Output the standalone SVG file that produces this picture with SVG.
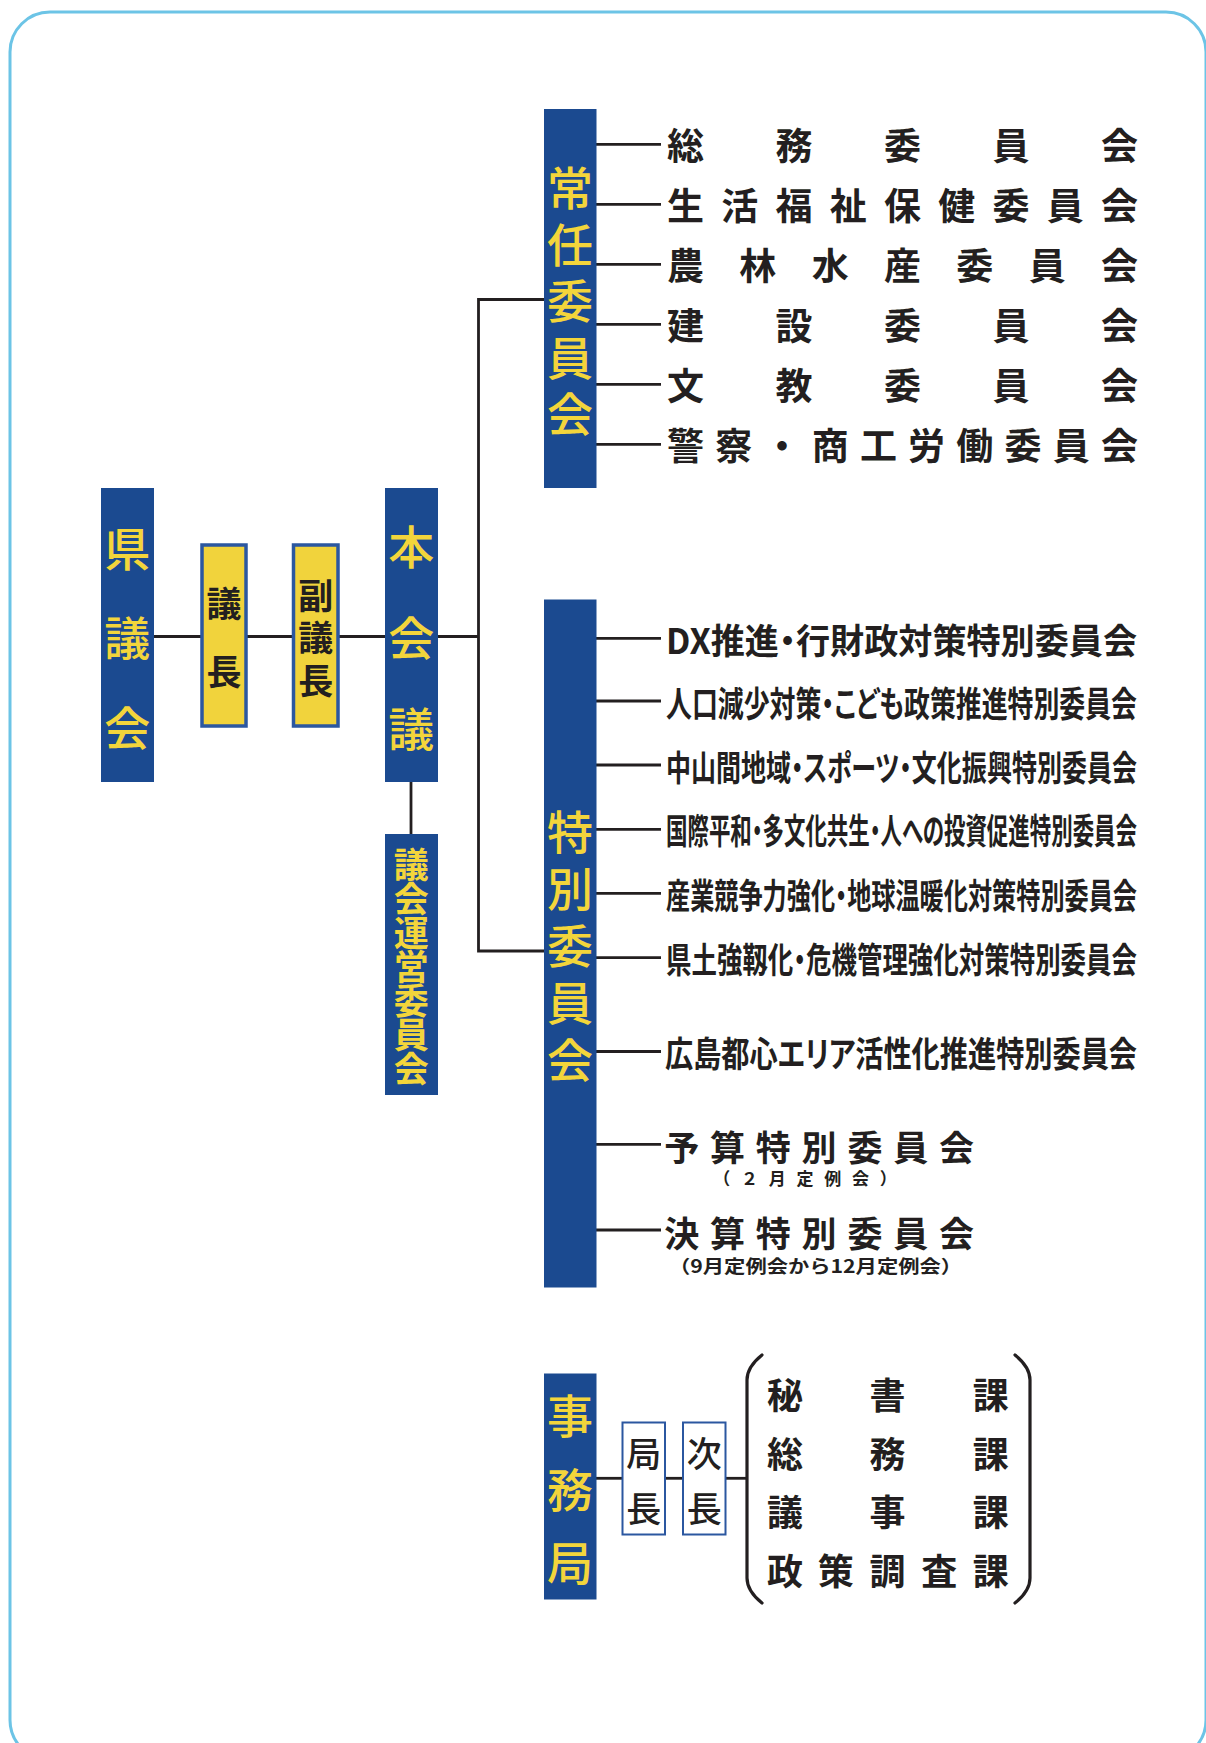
<svg xmlns="http://www.w3.org/2000/svg" width="1206" height="1743" viewBox="0 0 1206 1743">
<style>
.frame{fill:#fff;stroke:#6cc4e6;stroke-width:3}
.bx{fill:#1b4a90}
.yb{fill:#f1d33c;stroke:#2b57a0;stroke-width:3.5}
.wb{fill:#fff;stroke:#2b57a0;stroke-width:2}
.ln{stroke:#231f20;stroke-width:2.8;fill:none}
.br{stroke:#231f20;stroke-width:3.2;fill:none;stroke-linecap:round}
text{font-family:"Noto Sans CJK JP","Noto Sans",sans-serif;dominant-baseline:central}
.vy{fill:#f3d53b;font-size:46px;font-weight:500;text-anchor:middle}
.vs{fill:#f3d53b;font-size:35px;font-weight:700;text-anchor:middle}
.vk{fill:#231f20;font-size:35px;font-weight:700;text-anchor:middle}
.vw{fill:#231f20;font-size:35px;font-weight:500;text-anchor:middle}
.it{fill:#231f20;font-size:37px;font-weight:700;text-anchor:middle}
.sp{fill:#231f20;font-size:35px;font-weight:700;font-feature-settings:"palt"}
.bg{fill:#231f20;font-size:35px;font-weight:700;text-anchor:middle}
.sm{fill:#231f20;font-size:17px;font-weight:700;text-anchor:middle}
.sm2{fill:#231f20;font-size:18px;font-weight:700}
.ka{fill:#231f20;font-size:36px;font-weight:700;text-anchor:middle}
</style>
<rect class="frame" x="10" y="12" width="1196" height="1748" rx="40"/>

<g id="connectors">
<line class="ln" x1="153" y1="636.5" x2="201" y2="636.5"/>
<line class="ln" x1="247" y1="636.5" x2="292" y2="636.5"/>
<line class="ln" x1="339" y1="636.5" x2="385" y2="636.5"/>
<line class="ln" x1="437" y1="636.5" x2="478.5" y2="636.5"/>
<polyline class="ln" points="544,299.5 478.5,299.5 478.5,951 544,951"/>
<line class="ln" x1="411" y1="782" x2="411" y2="834"/>
<g>
<line class="ln" x1="596" y1="144.3" x2="661" y2="144.3"/>
<line class="ln" x1="596" y1="204.3" x2="661" y2="204.3"/>
<line class="ln" x1="596" y1="264.3" x2="661" y2="264.3"/>
<line class="ln" x1="596" y1="324.3" x2="661" y2="324.3"/>
<line class="ln" x1="596" y1="384.3" x2="661" y2="384.3"/>
<line class="ln" x1="596" y1="444.3" x2="661" y2="444.3"/>
</g>
<g>
<line class="ln" x1="596" y1="638.3" x2="661" y2="638.3"/>
<line class="ln" x1="596" y1="701" x2="661" y2="701"/>
<line class="ln" x1="596" y1="765" x2="661" y2="765"/>
<line class="ln" x1="596" y1="829.3" x2="661" y2="829.3"/>
<line class="ln" x1="596" y1="893.3" x2="661" y2="893.3"/>
<line class="ln" x1="596" y1="957.7" x2="661" y2="957.7"/>
<line class="ln" x1="596" y1="1051.5" x2="661" y2="1051.5"/>
<line class="ln" x1="596" y1="1144.3" x2="661" y2="1144.3"/>
<line class="ln" x1="596" y1="1230" x2="661" y2="1230"/>
</g>
<line class="ln" x1="596" y1="1478.3" x2="623" y2="1478.3"/>
<line class="ln" x1="665" y1="1478.3" x2="683" y2="1478.3"/>
<line class="ln" x1="725" y1="1478.3" x2="747" y2="1478.3"/>
</g>

<g id="kengikai">
<rect class="bx" x="101" y="488" width="53" height="294"/>
<text class="vy" x="127.3 127.3 127.3" y="545.6 634.7 725">県議会</text>
</g>
<g id="gicho">
<rect class="yb" x="202" y="545" width="44" height="181"/>
<text class="vk" x="224 224" y="601 669">議長</text>
</g>
<g id="fukugicho">
<rect class="yb" x="293.5" y="545" width="44.5" height="181"/>
<text class="vk" x="315.8 315.8 315.8" y="593 635.5 678">副議長</text>
</g>
<g id="honkaigi">
<rect class="bx" x="385" y="488" width="53" height="294"/>
<text class="vy" x="411.3 411.3 411.3" y="543.5 634.7 726">本会議</text>
</g>
<g id="gikaiunei">
<rect class="bx" x="385" y="834" width="53" height="261"/>
<text class="vs" x="411.3 411.3 411.3 411.3 411.3 411.3 411.3" y="862 896 930 964 998 1032 1066">議会運営委員会</text>
</g>

<g id="joninn">
<rect class="bx" x="544" y="109" width="52.5" height="379"/>
<text class="vy" x="570 570 570 570 570" y="185 241.5 298 354.5 411">常任委員会</text>
</g>
<g id="jonin-items">
<text class="it" x="685.5 794 902.5 1011 1119.5" y="144.3">総務委員会</text>
<text class="it" x="685.5 739.75 794 848.25 902.5 956.75 1011 1065.25 1119.5" y="204.3">生活福祉保健委員会</text>
<text class="it" x="685.5 757.8 830.2 902.5 974.8 1047.2 1119.5" y="264.3">農林水産委員会</text>
<text class="it" x="685.5 794 902.5 1011 1119.5" y="324.3">建設委員会</text>
<text class="it" x="685.5 794 902.5 1011 1119.5" y="384.3">文教委員会</text>
<text class="it" x="685.5 733.7 782 830.2 878.4 926.6 974.8 1023 1071.3 1119.5" y="444.3">警察・商工労働委員会</text>
</g>

<g id="tokubetsu">
<rect class="bx" x="544" y="599.5" width="52.5" height="688"/>
<text class="vy" x="570 570 570 570 570" y="829 886 943 1000 1057">特別委員会</text>
</g>
<g id="tokubetsu-items">
<text class="sp" x="666" y="638.3" textLength="471" lengthAdjust="spacingAndGlyphs">DX推進・行財政対策特別委員会</text>
<text class="sp" transform="translate(666,702) scale(0.785,1)" x="0" y="0" textLength="600" lengthAdjust="spacingAndGlyphs">人口減少対策・こども政策推進特別委員会</text>
<text class="sp" transform="translate(666,765.5) scale(0.773,1)" x="0" y="0" textLength="609.3" lengthAdjust="spacingAndGlyphs">中山間地域・スポーツ・文化振興特別委員会</text>
<text class="sp" transform="translate(666,829.5) scale(0.658,1)" x="0" y="0" textLength="715.8" lengthAdjust="spacingAndGlyphs">国際平和・多文化共生・人への投資促進特別委員会</text>
<text class="sp" transform="translate(666,893.5) scale(0.73,1)" x="0" y="0" textLength="645.2" lengthAdjust="spacingAndGlyphs">産業競争力強化・地球温暖化対策特別委員会</text>
<text class="sp" transform="translate(666,958) scale(0.771,1)" x="0" y="0" textLength="610.9" lengthAdjust="spacingAndGlyphs">県土強靱化・危機管理強化対策特別委員会</text>
<text class="sp" transform="translate(665,1051.5) scale(0.85,1)" x="0" y="0" textLength="555.3" lengthAdjust="spacingAndGlyphs">広島都心エリア活性化推進特別委員会</text>
<text class="bg" x="681.7 727.5 773.3 819.1 864.9 910.7 956.5" y="1145">予算特別委員会</text>
<text class="sm" x="721.7 749.5 777.3 805 832.8 860.6 888.3" y="1177.5">（２月定例会）</text>
<text class="bg" x="681.7 727.5 773.3 819.1 864.9 910.7 956.5" y="1231">決算特別委員会</text>
<text class="sm2" x="669" y="1265" textLength="293" lengthAdjust="spacingAndGlyphs">（9月定例会から12月定例会）</text>
</g>

<g id="jimukyoku">
<rect class="bx" x="544" y="1373.5" width="52.5" height="226"/>
<text class="vy" x="570 570 570" y="1413 1486.7 1560">事務局</text>
</g>
<g id="kyokucho">
<rect class="wb" x="622.5" y="1422.5" width="42.5" height="112"/>
<text class="vw" x="643.7 643.7" y="1451.7 1506.7">局長</text>
</g>
<g id="jicho">
<rect class="wb" x="683" y="1422.5" width="42.5" height="112"/>
<text class="vw" x="704.2 704.2" y="1451.7 1506.7">次長</text>
</g>
<g id="ka">
<path class="br" d="M762,1355 Q747,1367 747,1380 L747,1578 Q747,1591 762,1603"/>
<path class="br" d="M1015,1355 Q1030,1367 1030,1380 L1030,1578 Q1030,1591 1015,1603"/>
<text class="ka" x="785 887.5 990.8" y="1392.5">秘書課</text>
<text class="ka" x="785 887.5 990.8" y="1451.5">総務課</text>
<text class="ka" x="785 887.5 990.8" y="1510">議事課</text>
<text class="ka" x="785 835.8 887.5 939.2 990.8" y="1569">政策調査課</text>
</g>
</svg>
